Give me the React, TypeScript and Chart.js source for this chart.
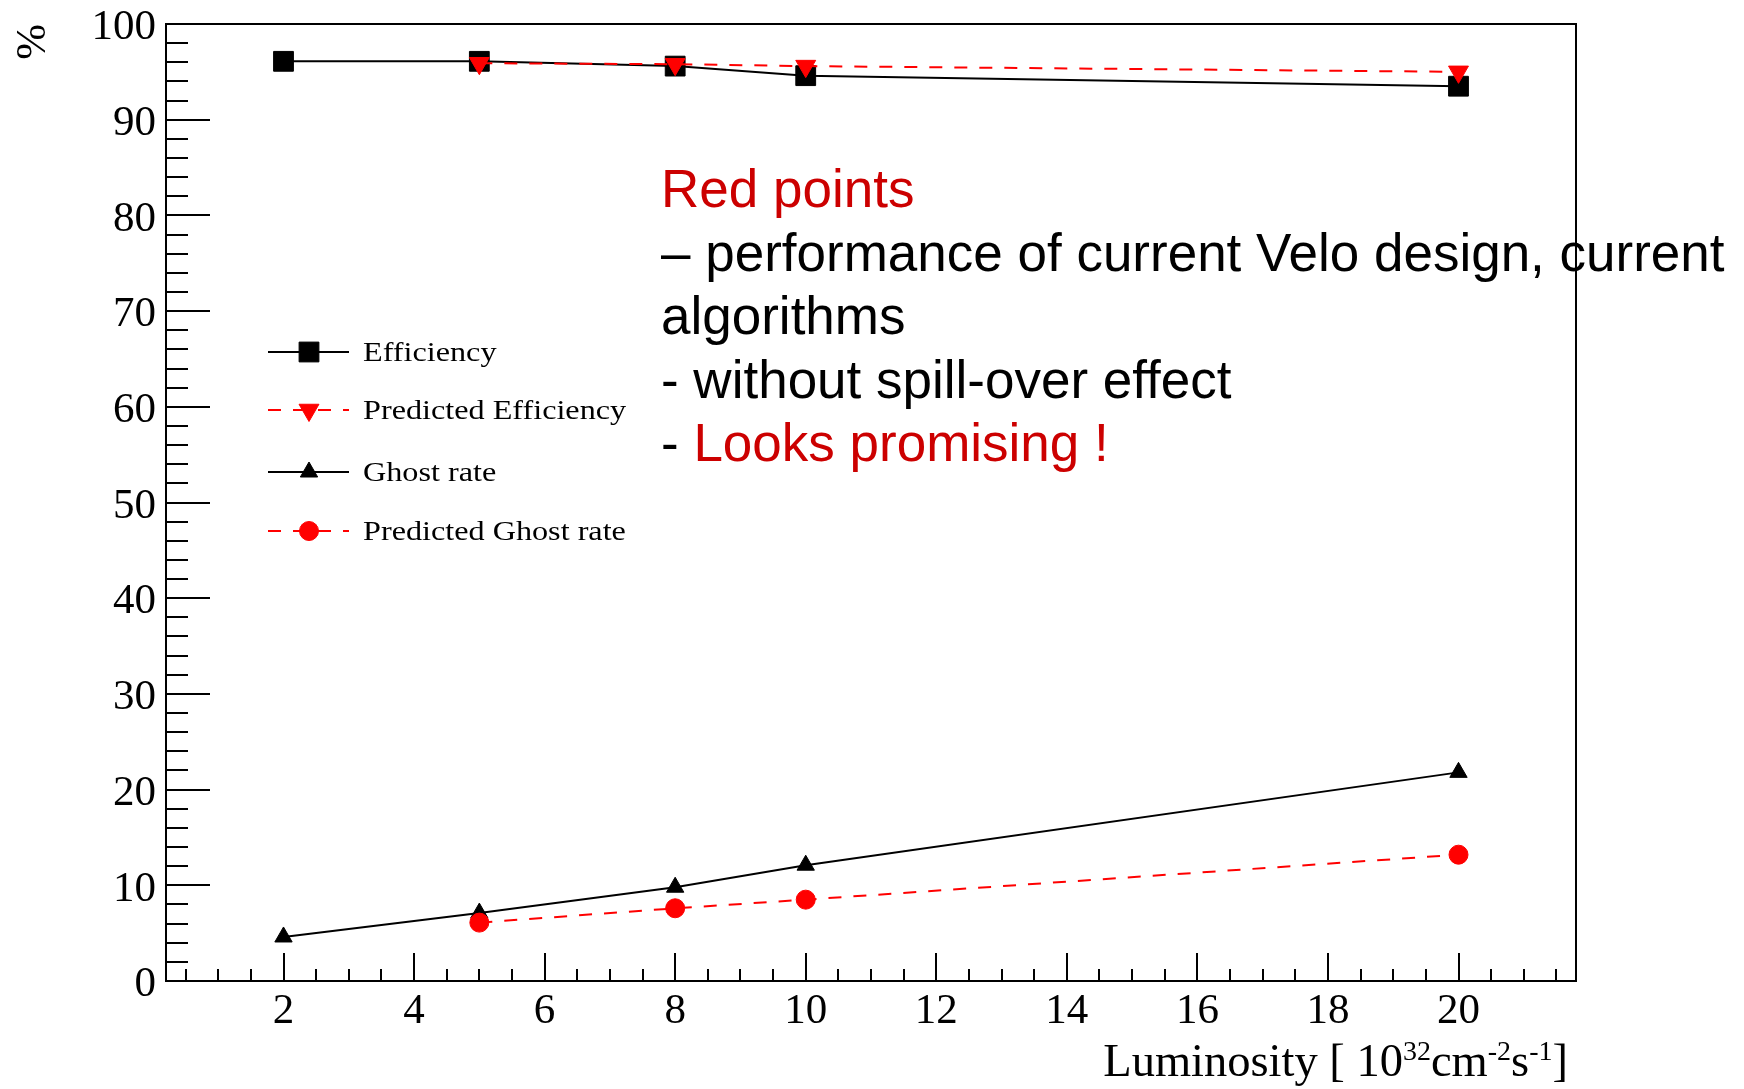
import React, { useEffect, useRef } from "react";
import { Chart, registerables } from "chart.js";
import { drawPoint } from "chart.js/helpers";

Chart.register(...registerables);

// ---- data ----
const luminosity = [2, 5, 8, 10, 20];
const luminosityPredicted = [5, 8, 10, 20];
const efficiency = [96.1, 96.1, 95.6, 94.6, 93.5];
const predictedEfficiency = [95.9, 95.8, 95.6, 95.0];
const ghostRate = [4.6, 7.1, 9.8, 12.1, 21.8];
const predictedGhostRate = [6.1, 7.6, 8.5, 13.2];

const xTickValues = [2, 4, 6, 8, 10, 12, 14, 16, 18, 20];
const yTickValues = [0, 10, 20, 30, 40, 50, 60, 70, 80, 90, 100];
const legendLabels = ["Efficiency", "Predicted Efficiency", "Ghost rate", "Predicted Ghost rate"];

const X_MIN = 0.2;
const X_MAX = 21.8;
const RED = "#ff0000";
const TEXT_RED = "#cc0000";
const SERIF = "'Liberation Serif', 'Times New Roman', serif";

const toPoints = (xs: number[], ys: number[]) => xs.map((x, i) => ({ x, y: ys[i] }));

const frameAndTicks = {
  id: "frameAndTicks",
  beforeDatasetsDraw(chart: any) {
    const { ctx, chartArea: a, scales } = chart;
    const x = scales.x;
    const y = scales.y;
    ctx.save();
    ctx.strokeStyle = "#000";
    ctx.lineWidth = 2;
    ctx.beginPath();
    // y ticks (inside), minor every 2, major every 10
    for (let v = 0; v <= 100; v += 2) {
      const len = v % 10 === 0 ? 44 : 22;
      const py = Math.round(y.getPixelForValue(v));
      ctx.moveTo(a.left, py);
      ctx.lineTo(a.left + len, py);
    }
    // x ticks (inside), minor every 0.5, major every 2
    for (let k = 1; k * 0.5 < X_MAX; k++) {
      const v = k * 0.5;
      if (v < X_MIN) continue;
      const len = v % 2 === 0 ? 28 : 12;
      const px = Math.round(x.getPixelForValue(v));
      ctx.moveTo(px, a.bottom);
      ctx.lineTo(px, a.bottom - len);
    }
    // top and right frame
    ctx.moveTo(a.left, a.top);
    ctx.lineTo(a.right, a.top);
    ctx.lineTo(a.right, a.bottom);
    ctx.stroke();
    ctx.restore();
  },
};

const rootLegend = {
  id: "rootLegend",
  afterDatasetsDraw(chart: any) {
    const { ctx } = chart;
    const rows = [352, 410, 472, 531];
    const lineX0 = 268;
    const lineX1 = 349;
    const markX = 309;
    const textX = 363;
    ctx.save();
    chart.data.datasets.forEach((ds: any, i: number) => {
      const yy = rows[i];
      ctx.strokeStyle = ds.borderColor;
      ctx.lineWidth = ds.borderWidth;
      ctx.setLineDash(ds.borderDash || []);
      ctx.beginPath();
      ctx.moveTo(lineX0, yy);
      ctx.lineTo(lineX1, yy);
      ctx.stroke();
      ctx.setLineDash([]);
      ctx.fillStyle = ds.backgroundColor;
      ctx.strokeStyle = ds.borderColor;
      ctx.lineWidth = 1;
      drawPoint(ctx, { pointStyle: ds.pointStyle, rotation: ds.pointRotation || 0, radius: ds.pointRadius, borderWidth: 1 }, markX, yy);
      ctx.save();
      ctx.translate(textX, yy + 9.3);
      ctx.scale(1.15, 1);
      ctx.fillStyle = "#000";
      ctx.font = `28px ${SERIF}`;
      ctx.textBaseline = "alphabetic";
      ctx.textAlign = "left";
      ctx.fillText(legendLabels[i], 0, 0);
      ctx.restore();
    });
    ctx.restore();
  },
};

export default function App() {
  const canvasRef = useRef<HTMLCanvasElement>(null);

  useEffect(() => {
    document.body.style.margin = "0";
    document.body.style.overflow = "hidden";
    const canvas = canvasRef.current;
    if (!canvas) return;
    const chart = new Chart(canvas, {
      type: "line",
      data: {
        datasets: [
          {
            label: legendLabels[0],
            data: toPoints(luminosity, efficiency),
            borderColor: "#000",
            backgroundColor: "#000",
            borderWidth: 2,
            pointStyle: "rect",
            pointRadius: 14,
            pointBorderWidth: 1,
            pointBorderColor: "#000",
            pointBackgroundColor: "#000",
            tension: 0,
            order: 3,
          },
          {
            label: legendLabels[1],
            data: toPoints(luminosityPredicted, predictedEfficiency),
            borderColor: RED,
            backgroundColor: RED,
            borderWidth: 2,
            borderDash: [13, 12],
            pointStyle: "triangle",
            pointRotation: 180,
            pointRadius: 11.5,
            pointBorderWidth: 1,
            pointBorderColor: RED,
            pointBackgroundColor: RED,
            tension: 0,
            order: 1,
          },
          {
            label: legendLabels[2],
            data: toPoints(luminosity, ghostRate),
            borderColor: "#000",
            backgroundColor: "#000",
            borderWidth: 2,
            pointStyle: "triangle",
            pointRadius: 10,
            pointBorderWidth: 1,
            pointBorderColor: "#000",
            pointBackgroundColor: "#000",
            tension: 0,
            order: 2,
          },
          {
            label: legendLabels[3],
            data: toPoints(luminosityPredicted, predictedGhostRate),
            borderColor: RED,
            backgroundColor: RED,
            borderWidth: 2,
            borderDash: [13, 12],
            pointStyle: "circle",
            pointRadius: 9.5,
            pointBorderWidth: 1,
            pointBorderColor: RED,
            pointBackgroundColor: RED,
            tension: 0,
            order: 0,
          },
        ],
      } as any,
      options: {
        responsive: false,
        devicePixelRatio: 1,
        animation: false,
        layout: { padding: { left: 0, top: 24, right: 168, bottom: 0 }, autoPadding: false } as any,
        plugins: {
          legend: { display: false },
          tooltip: { enabled: false },
        },
        scales: {
          x: {
            type: "linear",
            min: X_MIN,
            max: X_MAX,
            afterBuildTicks: (s: any) => {
              s.ticks = xTickValues.map((v) => ({ value: v }));
            },
            afterFit: (s: any) => {
              s.height = 108;
              s.paddingLeft = 0;
              s.paddingRight = 0;
              s.paddingTop = 0;
              s.paddingBottom = 0;
            },
            grid: { display: false, drawTicks: false },
            border: { display: true, color: "#000", width: 2 },
            ticks: {
              color: "#000",
              font: { family: SERIF, size: 43 },
              padding: 5,
              maxRotation: 0,
              autoSkip: false,
            },
          },
          y: {
            type: "linear",
            min: 0,
            max: 100,
            afterBuildTicks: (s: any) => {
              s.ticks = yTickValues.map((v) => ({ value: v }));
            },
            afterFit: (s: any) => {
              s.width = 166;
              s.paddingLeft = 0;
              s.paddingRight = 0;
              s.paddingTop = 0;
              s.paddingBottom = 0;
            },
            grid: { display: false, drawTicks: false },
            border: { display: true, color: "#000", width: 2 },
            ticks: {
              color: "#000",
              font: { family: SERIF, size: 43 },
              padding: 10,
              labelOffset: 4,
              autoSkip: false,
            },
            title: {
              display: true,
              text: "%",
              align: "end",
              color: "#000",
              font: { family: SERIF, size: 43 },
              padding: { top: 8, bottom: 0 },
            },
          },
        },
      } as any,
      plugins: [frameAndTicks, rootLegend],
    });
    return () => chart.destroy();
  }, []);

  const supStyle: React.CSSProperties = { fontSize: 28, position: "relative", top: -16, lineHeight: 0 };

  return (
    <div style={{ position: "absolute", left: 0, top: 0, width: 1744, height: 1089, background: "#fff", overflow: "hidden" }}>
      <canvas ref={canvasRef} width={1744} height={1089} style={{ position: "absolute", left: 0, top: 0, width: 1744, height: 1089 }} />
      <div
        style={{
          position: "absolute",
          left: 661,
          top: 157,
          fontFamily: "'Liberation Sans', Arial, sans-serif",
          fontSize: 53,
          lineHeight: "63.5px",
          whiteSpace: "nowrap",
          color: "#000",
        }}
      >
        <div style={{ color: TEXT_RED }}>Red points</div>
        <div>– performance of current Velo design, current</div>
        <div>algorithms</div>
        <div>- without spill-over effect</div>
        <div>
          - <span style={{ color: TEXT_RED }}>Looks promising !</span>
        </div>
      </div>
      <div
        style={{
          position: "absolute",
          right: 1744 - 1568,
          top: 1036,
          fontFamily: SERIF,
          fontSize: 46.5,
          lineHeight: "50px",
          whiteSpace: "nowrap",
          color: "#000",
        }}
      >
        Luminosity [ 10
        <span style={supStyle}>32</span>
        cm
        <span style={supStyle}>-2</span>
        s
        <span style={supStyle}>-1</span>]
      </div>
    </div>
  );
}
